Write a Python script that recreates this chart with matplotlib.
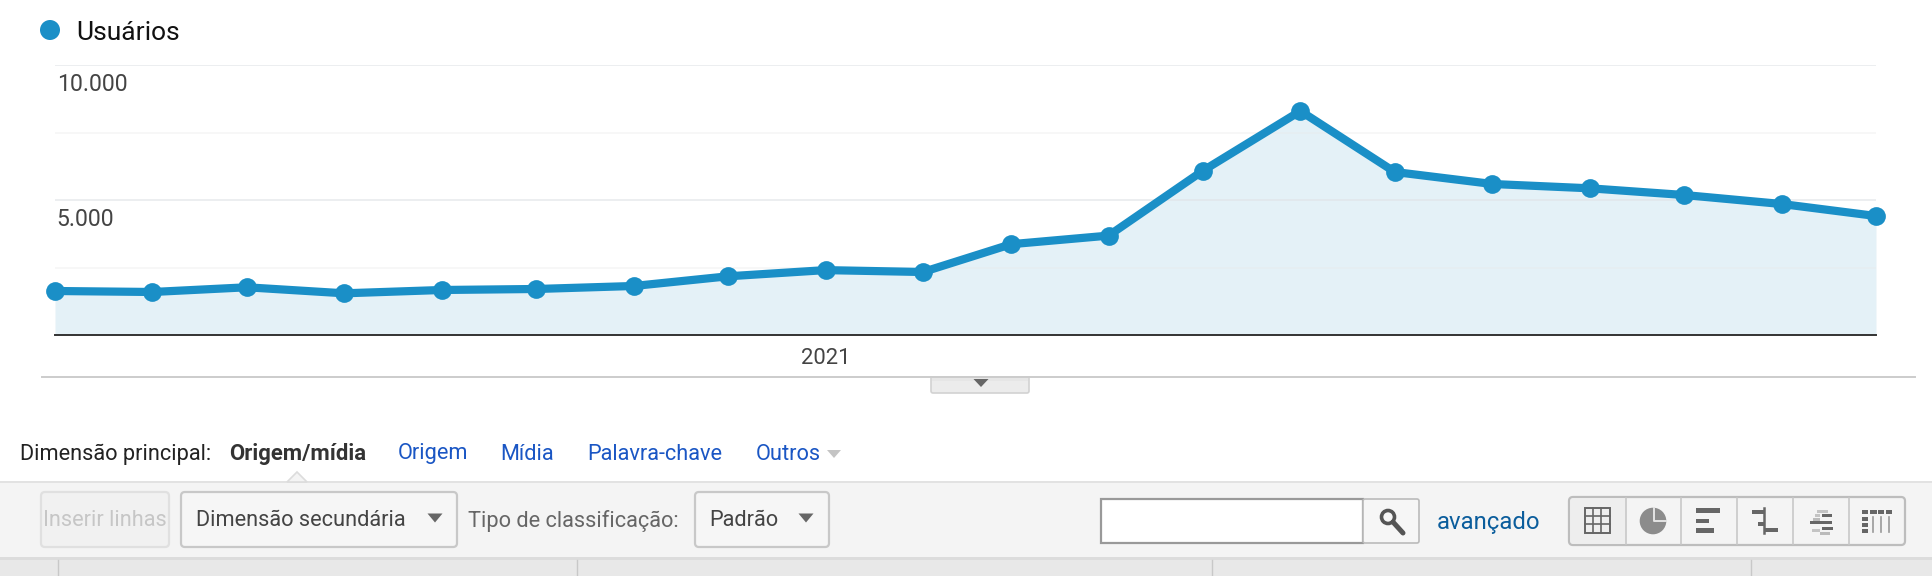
import datetime as dt
import matplotlib
matplotlib.use("Agg")
import matplotlib.pyplot as plt
import matplotlib.dates as mdates
from matplotlib.patches import Rectangle, FancyBboxPatch, Polygon, Circle
from matplotlib.transforms import ScaledTranslation

months = ["2020-05", "2020-06", "2020-07", "2020-08", "2020-09", "2020-10", "2020-11", "2020-12",
          "2021-01", "2021-02", "2021-03", "2021-04", "2021-05", "2021-06", "2021-07", "2021-08",
          "2021-09", "2021-10", "2021-11", "2021-12"]
users = [1630, 1593, 1767, 1544, 1667, 1704, 1815, 2174, 2403, 2333, 3363, 3681, 6085, 8296,
         6037, 5593, 5433, 5185, 4852, 4407]
series_name = "Usuários"
y_ticks = [0, 5000, 10000]
y_tick_labels = ["", "5.000", "10.000"]
y_minor = [2500, 7500]
x_tick_label = "2021"

W, H = 1932, 576
BLUE = "#1a8fc7"
plt.rcParams["font.family"] = ["Roboto", "DejaVu Sans"]

dates = [dt.datetime.strptime(m + "-01", "%Y-%m-%d") for m in months]
fig = plt.figure(figsize=(W / 100, H / 100), dpi=100, facecolor="white")

# --- chart
L, R, T, B = 55, 1876, 65, 335
ax = fig.add_axes([L / W, 1 - B / H, (R - L) / W, (B - T) / H], zorder=3, facecolor="none")
ax.fill_between(dates, users, 0, color="#e4f1f7", lw=0, zorder=1)
ax.plot(dates, users, color=BLUE, lw=5.9, marker="o", ms=13.5, mew=0, clip_on=False, zorder=3,
        solid_joinstyle="miter")
ax.set_xlim(dates[0], dates[-1])
ax.set_ylim(0, 10000)
for s in ["top", "left", "right"]:
    ax.spines[s].set_visible(False)
ax.spines["bottom"].set_color("#333333")
ax.spines["bottom"].set_linewidth(1.4)
ax.set_yticks(y_ticks)
ax.set_yticklabels(y_tick_labels)
ax.set_yticks(y_minor, minor=True)
ax.grid(axis="y", which="major", color="#dfe3e6", alpha=0.6, lw=1.4, zorder=2)
ax.grid(axis="y", which="minor", color="#e8e8e8", alpha=0.4, lw=1.2, zorder=2)
ax.tick_params(axis="y", which="both", length=0, pad=-1.2, labelsize=16.6, labelcolor="#444444")
for t in ax.get_yticklabels():
    t.set_ha("left")
    t.set_va("top")
    t.set_transform(t.get_transform() + ScaledTranslation(0, -5.8 / 72, fig.dpi_scale_trans))
ax.set_xticks([mdates.date2num(dt.datetime(2021, 1, 1))])
ax.set_xticklabels([x_tick_label])
ax.tick_params(axis="x", length=0, pad=9.5, labelsize=15.8, labelcolor="#444444")

# --- page chrome, in pixel coordinates
ui = fig.add_axes([0, 0, 1, 1], zorder=1)
ui.set_xlim(0, W)
ui.set_ylim(H, 0)
ui.axis("off")
top = fig.add_axes([0, 0, 1, 1], zorder=4, facecolor="none")
top.set_xlim(0, W)
top.set_ylim(H, 0)
top.axis("off")


def rect(x0, y0, x1, y1, fc, ec="none", lw=0, a=ui, z=2):
    a.add_patch(Rectangle((x0, y0), x1 - x0, y1 - y0, fc=fc, ec=ec, lw=lw, zorder=z))


def button(x0, y0, x1, y1, fc="#f6f6f6", ec="#c8c8c8", lw=1.6, r=4, z=3):
    ui.add_patch(FancyBboxPatch((x0 + r, y0 + r), x1 - x0 - 2 * r, y1 - y0 - 2 * r,
                                boxstyle=f"round,pad={r},rounding_size={r}", fc=fc, ec=ec, lw=lw, zorder=z))


def tri(cx, cy, w=15, h=9, c="#666666", a=ui):
    a.add_patch(Polygon([(cx - w / 2, cy - h / 2), (cx + w / 2, cy - h / 2), (cx, cy + h / 2)],
                        closed=True, fc=c, ec="none", zorder=6))


def label(x, y, s, c="#222222", size=15.7, **kw):
    ui.text(x, y, s, color=c, fontsize=size, va="center", ha=kw.pop("ha", "left"), zorder=7, **kw)


# legend
top.add_patch(Circle((50, 30), 10, fc=BLUE, ec="none"))
top.text(76, 32.5, series_name, fontsize=19, color="#111111", va="center", ha="left")

# handle and rule under the chart
button(931, 370, 1029, 393, fc="#ececec", ec="#d2d2d2", lw=1.2, r=2)
rect(925, 360, 1035, 376, "white", z=4)
rect(932, 377.5, 1028, 381, "#e6e6e6", z=4)
ui.plot([42, 1915], [376.5, 376.5], color="#cccccc", lw=1.4, zorder=5)
tri(981, 383, 15, 8, "#666666")

# dimension row
label(20.5, 454, "Dimensão principal:", "#222222")
label(229, 454, "Origem/mídia", "#333333", size=15.9, fontweight="bold")
LINK = "#1a56c4"
label(397.5, 454, "Origem", LINK)
label(500, 454, "Mídia", LINK)
label(587, 454, "Palavra-chave", LINK)
label(755.5, 454, "Outros", LINK)
tri(834, 454, 14, 8, "#c4c4c4")

# toolbar
rect(0, 482, W, 558, "#f4f4f4")
rect(0, 481, W, 483, "#e2e2e2")
rect(0, 557, W, 560, "#dcdcdc")
rect(0, 560, W, H, "#e8e8e8")
for xv in [58, 577, 1212, 1751]:
    ui.plot([xv, xv], [560, H], color="#c8c8c8", lw=1, zorder=3)
ui.add_patch(Polygon([(287, 482), (297, 472), (307, 482)], closed=True, fc="#f4f4f4", ec="#dcdcdc", lw=1.2, zorder=4))

button(41, 492, 169, 547, fc="#f1f1f1", ec="#e0e0e0")
label(43, 520.5, "Inserir linhas", "#c6c6c6")
button(181, 492, 457, 547)
label(196, 520.5, "Dimensão secundária", "#444444")
tri(435, 518)
label(468.5, 520.5, "Tipo de classificação:", "#666666")
button(695, 492, 829, 547)
label(709.5, 520.5, "Padrão", "#444444")
tri(806, 518)

# search
rect(1101, 499, 1363, 543, "white", ec="#999999", lw=1.6, z=3)
button(1363, 499, 1419, 543, fc="#f6f6f6", ec="#bbbbbb", lw=1.2, r=2)
ui.add_patch(Circle((1388, 517), 6.5, fc="none", ec="#555555", lw=2.6, zorder=6))
ui.plot([1393, 1403], [522, 533], color="#555555", lw=3.6, solid_capstyle="round", zorder=6)
label(1437, 523, "avançado", "#0b5d9c", size=17.2)

# view switch
button(1569, 497, 1905, 545, fc="#f4f4f4", ec="#bdbdbd", lw=1.6)
rect(1571, 499, 1626, 543, "#eeeeee", z=4)
for xv in [1626, 1681, 1737, 1793, 1849]:
    ui.plot([xv, xv], [498, 544], color="#c8c8c8", lw=1.2, zorder=5)
ICON = "#666666"
# grid icon
rect(1585, 508, 1610, 533, "none", ec=ICON, lw=1.4, z=6)
for d in [8, 16]:
    ui.plot([1585 + d, 1585 + d], [508, 533], color=ICON, lw=1.2, zorder=6)
    ui.plot([1585, 1610], [508 + d, 508 + d], color=ICON, lw=1.2, zorder=6)
# pie icon
ui.add_patch(Circle((1653, 521), 13.3, fc="#8c8c8c", ec="none", zorder=6))
ui.plot([1654, 1654, 1666], [508, 521, 521], color="#e4e4e4", lw=1.4, zorder=7)
# bars icon
for y0, y1, x1 in [(508, 513, 1720), (519, 523, 1709), (528, 533, 1714)]:
    rect(1696, y0, x1, y1, ICON, z=6)
# comparison icon
ui.plot([1764, 1764], [508, 533], color=ICON, lw=1.8, zorder=6)
for y0, x0, x1 in [(510, 1752, 1764), (522, 1758, 1764), (528, 1764, 1778)]:
    rect(x0, y0, x1, y0 + 4, ICON, z=6)
# term cloud icon
for y0, x0, x1, c in [(510, 1817, 1828, "#c4c4c4"), (514, 1822, 1832, "#666666"), (514, 1815, 1820, "#c4c4c4"),
                      (518, 1813, 1820, "#bbbbbb"), (521, 1810, 1832, "#666666"), (527, 1822, 1833, "#666666"),
                      (529, 1812, 1820, "#c4c4c4"), (532, 1820, 1830, "#bbbbbb")]:
    rect(x0, y0, x1, y0 + 2.5, c, z=6)
# pivot icon
for x0, x1 in [(1862, 1868), (1870, 1877), (1878, 1884), (1886, 1892)]:
    rect(x0, 510, x1, 513.5, ICON, z=6)
for y0 in [517, 523, 529]:
    rect(1862, y0, 1868, y0 + 3.5, ICON, z=6)
for xv in [1873, 1881, 1889]:
    ui.plot([xv, xv], [517, 532], color="#999999", lw=1.2, zorder=6)

fig.savefig("out.png", dpi=100, facecolor="white")
